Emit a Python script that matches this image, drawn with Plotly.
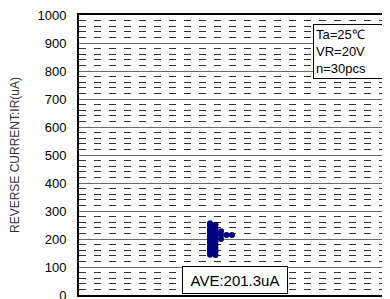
import plotly.graph_objects as go

# Swarm column index for each sample, and its reverse current (uA)
swarm_col = [0]*15 + [1]*10 + [2]*3 + [3, 4]
ir_values = [256, 248, 240, 232, 224, 216, 208, 200, 192, 184, 176, 168, 160, 152, 144,
             251, 239, 227, 215, 203, 191, 179, 167, 155, 143,
             228, 214, 200,
             214, 214]
y_ticks = [0, 100, 200, 300, 400, 500, 600, 700, 800, 900, 1000]
cond_text = "Ta=25\u2103<br>VR=20V<br>n=30pcs"
ave_text = "AVE:201.3uA"
y_title = "REVERSE CURRENT:IR(uA)"

fig = go.Figure()
fig.add_trace(go.Scatter(
    x=swarm_col, y=ir_values, mode="markers",
    marker=dict(color="#000080", size=6, line=dict(width=0)),
    showlegend=False, hoverinfo="skip"))

font = "Liberation Sans, Arial, sans-serif"
# page body has an 8px default margin; size the figure to compensate
fig.update_layout(
    width=382, height=291,
    margin=dict(l=71, r=0, t=7, b=4, autoexpand=False),
    paper_bgcolor="white", plot_bgcolor="white",
    font=dict(family=font, size=12, color="black"),
    xaxis=dict(range=[-23.8, 32.7], showticklabels=False, ticks="",
               showgrid=False, zeroline=False, showline=True, mirror=True,
               linecolor="black", linewidth=2),
    yaxis=dict(range=[0, 1000], tickvals=y_ticks, ticks="outside",
               ticklen=8, tickcolor="rgba(0,0,0,0)",
               ticklabeloverflow="allow",
               tickfont=dict(size=13, color="black"),
               showgrid=True, gridcolor="#6a6a6a", gridwidth=1,
               minor=dict(dtick=20, showgrid=True, gridcolor="#333333",
                          griddash="7px,8px", gridwidth=1),
               zeroline=False, showline=True, linecolor="black", linewidth=2,
               title=dict(text=y_title, font=dict(size=12, color="#333333"),
                          standoff=19)),
)
fig.add_annotation(xref="paper", yref="paper", x=0.9765, y=0.967,
                   xanchor="right", yanchor="top", text=cond_text,
                   showarrow=False, align="left", bgcolor="white",
                   width=64,
                   bordercolor="black", borderwidth=1, borderpad=2,
                   font=dict(size=13, color="black", family=font))
fig.add_annotation(xref="paper", yref="paper", x=0.5, y=0.004,
                   xanchor="center", yanchor="bottom", text=ave_text,
                   showarrow=False, align="center", bgcolor="white",
                   width=100, height=22,
                   bordercolor="black", borderwidth=1, borderpad=2,
                   font=dict(size=15, color="black", family=font))
fig.write_html("out.html")
